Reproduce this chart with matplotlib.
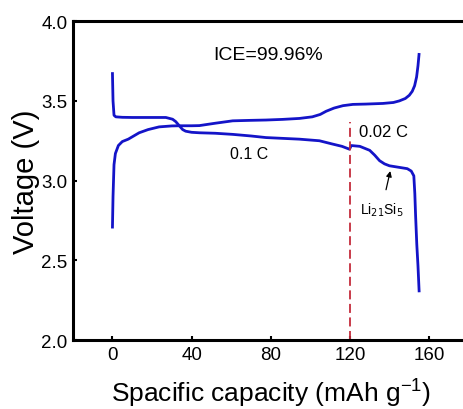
import numpy as np
import matplotlib.pyplot as plt

plt.rcParams['font.family'] = ['Liberation Sans', 'DejaVu Sans']

# charge curve (0.1 C), capacity in mAh/g vs voltage
cap_charge = [0, 0.3, 0.8, 1.5, 3, 5, 8, 13.5, 18, 23.6, 30, 33.8, 40, 43.9, 52,
              60.8, 70, 77.6, 86, 94.5, 101, 105, 108, 112, 116.5, 121.5, 128,
              136.7, 142, 145, 148, 150, 151.5, 152.7, 153.7, 154.4, 155]
v_charge = [2.70, 2.90, 3.10, 3.17, 3.22, 3.245, 3.26, 3.30, 3.32, 3.337, 3.343,
            3.344, 3.344, 3.345, 3.36, 3.375, 3.378, 3.38, 3.384, 3.39, 3.40,
            3.415, 3.435, 3.455, 3.47, 3.478, 3.48, 3.484, 3.49, 3.50, 3.515,
            3.535, 3.56, 3.595, 3.65, 3.72, 3.80]

# discharge curve
cap_dis = [0, 0.3, 0.8, 1.7, 5, 10, 20, 27, 30.4, 32, 33.8, 35.5, 37, 40, 44,
           52, 60.8, 70, 77.6, 86, 94.5, 104.6, 111, 116, 119.8, 120.7, 125,
           128, 130, 132.5, 135, 137.5, 140, 145, 149, 151, 152.3, 152.8,
           153.2, 153.8, 154.4, 155]
v_dis = [3.68, 3.50, 3.41, 3.40, 3.397, 3.396, 3.396, 3.396, 3.385, 3.37, 3.344,
         3.32, 3.31, 3.303, 3.30, 3.297, 3.29, 3.28, 3.27, 3.265, 3.26, 3.25,
         3.23, 3.215, 3.197, 3.22, 3.215, 3.20, 3.19, 3.16, 3.125, 3.105,
         3.093, 3.083, 3.075, 3.06, 3.03, 2.92, 2.78, 2.60, 2.466, 2.30]

rate_switch = 120
switch_top = 3.37

fig = plt.figure(figsize=(4.64, 4.10), dpi=100)
ax = fig.add_axes([0.157, 0.168, 0.853, 0.778])

blue = '#1414c8'
ax.plot(cap_charge, v_charge, color=blue, lw=2.0, solid_capstyle='butt')
ax.plot(cap_dis, v_dis, color=blue, lw=2.0, solid_capstyle='butt')
ax.plot([rate_switch, rate_switch], [2.0, switch_top], color='#c42c3c',
        lw=1.3, ls=(0, (5, 2.5)))

ax.set_xlim(-20, 180)
ax.set_ylim(2.0, 4.0)
ax.set_xticks([0, 40, 80, 120, 160])
ax.set_yticks([2.0, 2.5, 3.0, 3.5, 4.0])
ax.yaxis.set_major_formatter(plt.FormatStrFormatter('%.1f'))

for side in ['left', 'bottom', 'top']:
    ax.spines[side].set_linewidth(2.2)
ax.spines['right'].set_visible(False)
ax.tick_params(direction='in', length=3, width=1.5, labelsize=13.5, pad=4)

ax.set_xlabel('Spacific capacity (mAh g$^{\\mathregular{-1}}$)', fontsize=19,
              labelpad=9)
ax.set_ylabel('Voltage (V)', fontsize=21, labelpad=1)

ax.text(78.5, 3.79, 'ICE=99.96%', fontsize=14, ha='center', va='center')
ax.text(69, 3.17, '0.1 C', fontsize=11.5, ha='center', va='center')
ax.text(137, 3.306, '0.02 C', fontsize=12, ha='center', va='center')
ax.annotate('Li$_{21}$Si$_5$', xy=(140.4, 3.06), xytext=(136, 2.82),
            fontsize=10, ha='center', va='center',
            arrowprops=dict(arrowstyle='-|>', color='black', lw=0.9,
                            mutation_scale=8, shrinkA=6, shrinkB=0))

fig.savefig('out.png', dpi=100)
